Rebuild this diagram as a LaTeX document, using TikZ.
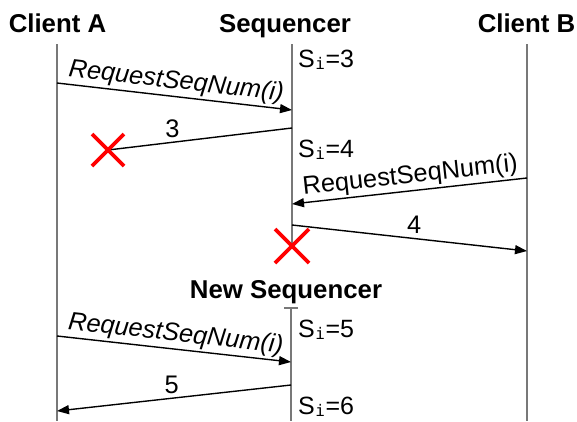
\documentclass[tikz,border=0pt]{standalone}
\usepackage{fontspec}
\setmainfont{Liberation Sans}
\newfontfamily\submono{DejaVu Sans Mono}
\usetikzlibrary{arrows.meta}
\definecolor{lifegray}{HTML}{787878}
% sequence-number state: S with a small slab-footed subscript i
\newcommand{\seqstate}[1]{S\kern0.5pt\raisebox{-2.5pt}{\fontsize{16}{16}\submono i}\kern0.5pt=#1}

\begin{document}
\begin{tikzpicture}[x=1pt,y=-1pt,
  lifeline/.style={draw=lifegray, line width=2pt},
  msg/.style={draw=black, line width=1.4pt, -{Triangle[length=12pt,width=9pt]}},
  lost/.style={draw=black, line width=1.4pt},
  title/.style={font=\fontsize{25.8}{29}\selectfont\bfseries, inner sep=0pt, anchor=base},
  lbl/.style={font=\fontsize{25.4}{29}\selectfont, inner sep=2pt},
  state/.style={font=\fontsize{25}{29}\selectfont, anchor=base west, inner sep=0pt},
  crossmark/.style={draw=red, line width=3.6pt}]
\useasboundingbox (0,0) rectangle (577,421);

% participants
\node[title] (ca) at (57.5,32) {Client A};
\node[title] (sq) at (285,32) {Sequencer};
\node[title] (cb) at (526.5,32) {Client B};

% lifelines
\coordinate (caTop) at (57,44);   \coordinate (caBot) at (57,421);
\coordinate (sqTop) at (292,44);  \coordinate (sqEnd) at (292,247);
\coordinate (cbTop) at (527,44);  \coordinate (cbBot) at (527,421);
\draw[lifeline] (caTop) -- (caBot);
\draw[lifeline] (sqTop) -- (sqEnd);
\draw[lifeline] (cbTop) -- (cbBot);

% replacement sequencer
\node[title] (nsq) at (286,298) {New Sequencer};
\coordinate (nsTop) at (291,308); \coordinate (nsBot) at (291,421);
\draw[lifeline] (nsTop) -- (nsBot);
\draw[lifeline] ([xshift=-7pt]nsTop) -- ([xshift=7pt]nsTop);

% sequencer state
\node[state] (s3) at (298,67) {\seqstate{3}};
\node[state] (s4) at (298,157) {\seqstate{4}};
\node[state] (s5) at (298,337) {\seqstate{5}};
\node[state] (s6) at (298,414) {\seqstate{6}};

% message end points
\coordinate (m1a) at (57,83);   \coordinate (m1b) at (292,110);
\coordinate (m2a) at (292,128); \coordinate (x1) at (108,150);
\coordinate (m3a) at (527,178); \coordinate (m3b) at (292,204);
\coordinate (m4a) at (292,225); \coordinate (m4b) at (527,251);
\coordinate (m5a) at (57,336);  \coordinate (m5b) at (291,362);
\coordinate (m6a) at (291,385); \coordinate (m6b) at (57,411);

% messages
\draw[msg] (m1a) -- node[lbl, sloped, above, pos=0.5] (l1) {\itshape RequestSeqNum(i)} (m1b);
\draw[lost] (m2a) -- node[lbl, above=2pt, pos=0.65] (l2) {3} (x1);
\draw[msg] (m3a) -- node[lbl, sloped, above, pos=0.49] (l3) {RequestSeqNum(i)} (m3b);
\draw[msg] (m4a) -- node[lbl, above=2pt, pos=0.52] (l4) {4} (m4b);
\draw[msg] (m5a) -- node[lbl, sloped, above, pos=0.5] (l5) {\itshape RequestSeqNum(i)} (m5b);
\draw[msg] (m6a) -- node[lbl, above=2pt, pos=0.51] (l6) {5} (m6b);

% failures
\coordinate (x2) at (292,246);
\draw[crossmark] ([shift={(-16,-16)}]x1) -- ([shift={(16,16)}]x1)
                 ([shift={(-16,16)}]x1) -- ([shift={(16,-16)}]x1);
\draw[crossmark] ([shift={(-17,-17)}]x2) -- ([shift={(17,17)}]x2)
                 ([shift={(-17,17)}]x2) -- ([shift={(17,-17)}]x2);
\end{tikzpicture}
\end{document}
